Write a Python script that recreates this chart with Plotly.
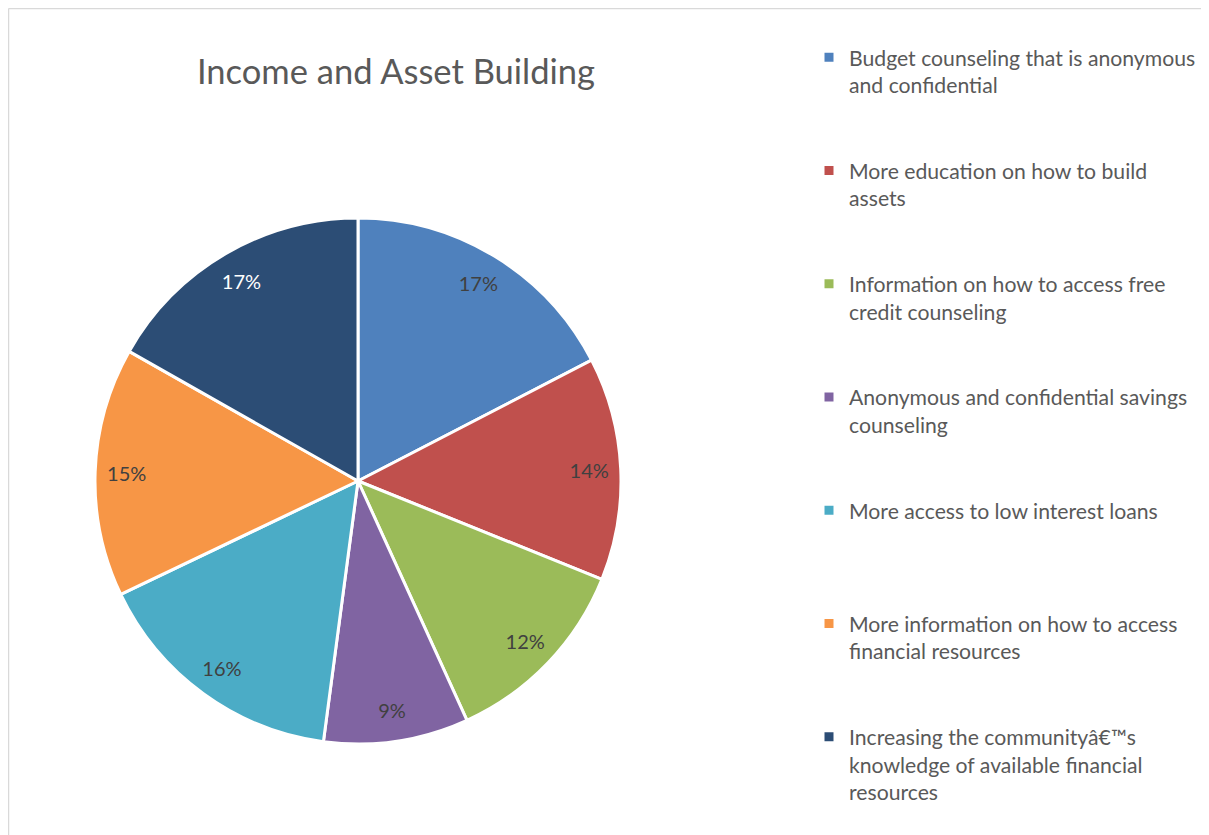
import plotly.graph_objects as go

categories = [
    "Budget counseling that is anonymous<br>and confidential",
    "More education on how to build<br>assets",
    "Information on how to access free<br>credit counseling",
    "Anonymous and confidential savings<br>counseling",
    "More access to low interest loans",
    "More information on how to access<br>financial resources",
    "Increasing the communityâ€™s<br>knowledge of available financial<br>resources",
]
values = [17.4, 13.7, 12.1, 8.9, 15.8, 15.3, 16.8]
colors = ["#4F81BD", "#C0504D", "#9BBB59", "#8064A2", "#4BACC6", "#F79646", "#2C4D75"]
label_colors = ["#404040"] * 6 + ["#FFFFFF"]

W, H = 1209, 835
# pad legend entries to equal height (like Excel's legend)
max_lines = 4
legend_labels = []
for c in categories:
    n = c.count("<br>") + 1
    legend_labels.append(c + "<br>\u00a0" * (max_lines - n))

cx, cy, r = 350, 473, 263
dom_x = [(cx - r) / W, (cx + r) / W]
dom_y = [(H - cy - r) / H, (H - cy + r) / H]

fig = go.Figure()
fig.add_trace(go.Pie(
    labels=legend_labels, values=values, sort=False, direction="clockwise", rotation=0,
    marker=dict(colors=colors, line=dict(color="white", width=3)),
    textinfo="none", domain=dict(x=dom_x, y=dom_y), showlegend=True, hoverinfo="label+percent",
))
fig.add_trace(go.Pie(
    labels=legend_labels, values=values, sort=False, direction="clockwise", rotation=0,
    hole=0.76,
    marker=dict(colors=["rgba(0,0,0,0)"] * len(values), line=dict(width=0)),
    texttemplate="%{percent:.0%}", textposition="inside", insidetextorientation="horizontal",
    textfont=dict(family="Lato", size=20, color=label_colors),
    domain=dict(x=dom_x, y=dom_y), showlegend=False, hoverinfo="skip",
))

fig.update_layout(
    width=W, height=H,
    margin=dict(l=0, r=0, t=0, b=0),
    paper_bgcolor="white", plot_bgcolor="white",
    title=dict(text="Income and Asset Building", x=388 / W, y=1 - 64 / H,
               xanchor="center", yanchor="middle",
               font=dict(family="Lato", size=34.5, color="#595959")),
    legend=dict(x=801 / W, y=1 - 29 / H, xanchor="left", yanchor="top", valign="top",
                font=dict(family="Lato", size=21.2, color="#595959"), tracegroupgap=0),
    shapes=[
        dict(type="line", xref="paper", yref="paper", x0=0.5 / W, x1=0.5 / W, y0=0, y1=1 - 0.5 / H,
             line=dict(color="#D9D9D9", width=1.5)),
        dict(type="line", xref="paper", yref="paper", x0=0.5 / W, x1=1, y0=1 - 0.5 / H, y1=1 - 0.5 / H,
             line=dict(color="#D9D9D9", width=1.5)),
    ],
)

fig.write_html("out.html")
